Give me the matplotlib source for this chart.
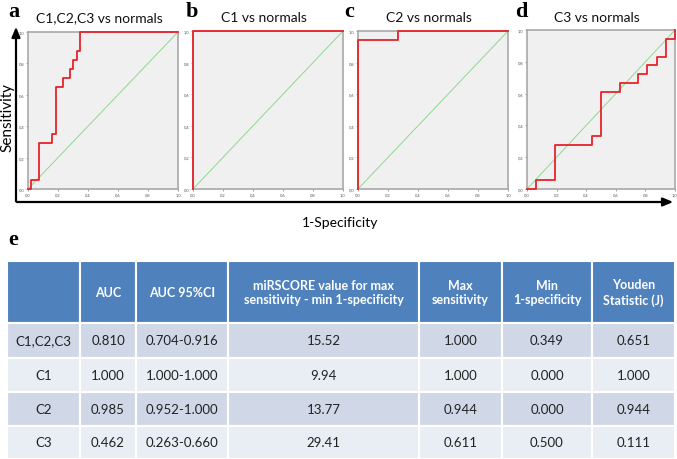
import matplotlib
matplotlib.use("Agg")
import matplotlib.pyplot as plt
from matplotlib.patches import Rectangle

# ROC corner points (1-specificity, sensitivity)
titles = ["C1,C2,C3 vs normals", "C1 vs normals", "C2 vs normals", "C3 vs normals"]
letters = ["a", "b", "c", "d"]
fpr_a = [0, 0.023, 0.070, 0.163, 0.186, 0.233, 0.279, 0.302, 0.326, 0.349, 1.0]
tpr_a = [0, 0.059, 0.294, 0.353, 0.647, 0.706, 0.765, 0.824, 0.882, 1.0, 1.0]
fpr_b = [0, 0, 1.0]
tpr_b = [0, 1.0, 1.0]
fpr_c = [0, 0, 0.267, 1.0]
tpr_c = [0, 0.944, 1.0, 1.0]
fpr_d = [0, 0.0625, 0.1875, 0.4375, 0.5, 0.625, 0.75, 0.8125, 0.875, 0.9375, 1.0]
tpr_d = [0, 0.056, 0.278, 0.333, 0.611, 0.667, 0.722, 0.778, 0.833, 0.944, 1.0]
ticks = [0, 0.2, 0.4, 0.6, 0.8, 1.0]

# table e
col_headers = ["", "AUC", "AUC 95%CI", "miRSCORE value for max\nsensitivity - min 1-specificity",
               "Max\nsensitivity", "Min\n1-specificity", "Youden\nStatistic (J)"]
row_names = ["C1,C2,C3", "C1", "C2", "C3"]
auc = ["0.810", "1.000", "0.985", "0.462"]
auc_ci = ["0.704-0.916", "1.000-1.000", "0.952-1.000", "0.263-0.660"]
mirscore = ["15.52", "9.94", "13.77", "29.41"]
max_sens = ["1.000", "1.000", "0.944", "0.611"]
min_spec = ["0.349", "0.000", "0.000", "0.500"]
youden = ["0.651", "1.000", "0.944", "0.111"]

W, H = 677, 460
fig = plt.figure(figsize=(W / 100, H / 100), dpi=100)
plt.rcParams['font.family'] = ['Lato', 'DejaVu Sans']

# overlay axes in pixel coordinates
bg = fig.add_axes([0, 0, 1, 1])
bg.set_xlim(0, W)
bg.set_ylim(H, 0)
bg.axis("off")

def px_axes(x0, y0, x1, y1):
    return fig.add_axes([x0 / W, 1 - y1 / H, (x1 - x0) / W, (y1 - y0) / H])

boxes = [(28, 33, 178, 190), (193, 32, 343, 190), (358, 32, 508, 190), (527, 31, 675, 190)]
curves = [(fpr_a, tpr_a), (fpr_b, tpr_b), (fpr_c, tpr_c), (fpr_d, tpr_d)]
letter_x = [8, 186, 344, 515]

for i, (box, (fx, fy)) in enumerate(zip(boxes, curves)):
    ax = px_axes(*box)
    ax.set_facecolor("#f0f0f0")
    ax.plot([0, 1], [0, 1], color="#8fd88f", lw=0.7)
    ax.step(fx, fy, where="post", color="#e8232b", lw=1.3, clip_on=False, zorder=5)
    ax.set_xlim(0, 1)
    ax.set_ylim(0, 1)
    ax.set_xticks(ticks)
    ax.set_yticks(ticks)
    lab = [("%.1f" % t).replace(".", ",") for t in ticks]
    ax.set_xticklabels(lab)
    ax.set_yticklabels(lab)
    ax.tick_params(labelsize=3, length=1.5, width=0.4, pad=1, colors="#555555")
    for s in ax.spines.values():
        s.set_color("#a8a8a8")
        s.set_linewidth(1.2)
    cx = (box[0] + box[2]) / 2
    bg.text(cx - 4, 18, titles[i], ha="center", va="center", fontsize=10, color="#111111")
    bg.text(letter_x[i], 12, letters[i], ha="left", va="center", fontsize=16,
            fontweight="bold", family="Liberation Serif")

# big axis arrows
bg.annotate("", xy=(16, 25), xytext=(16, 205),
            arrowprops=dict(arrowstyle="-|>,head_length=0.6,head_width=0.25", color="black", lw=1.6))
bg.annotate("", xy=(676, 203), xytext=(14, 203),
            arrowprops=dict(arrowstyle="-|>,head_length=0.6,head_width=0.25", color="black", lw=1.6))
bg.text(7, 118, "Sensitivity", rotation=90, ha="center", va="center", fontsize=11)
bg.text(340, 223, "1-Specificity", ha="center", va="center", fontsize=10)
bg.text(8, 240, "e", ha="left", va="center", fontsize=16, fontweight="bold", family="Liberation Serif")

# table
col_edges = [7, 80, 136, 228, 419, 502, 592, 675]
row_edges = [262, 324, 359, 393, 427, 460]
row_colors = ["#d0d8e8", "#e9edf4", "#d0d8e8", "#e9edf4"]
columns = [row_names, auc, auc_ci, mirscore, max_sens, min_spec, youden]

for j in range(len(col_edges) - 1):
    x0, x1 = col_edges[j], col_edges[j + 1]
    y0, y1 = row_edges[0], row_edges[1]
    bg.add_patch(Rectangle((x0, y0), x1 - x0, y1 - y0, facecolor="#4f81bd",
                           edgecolor="white", lw=1.5))
    bg.text((x0 + x1) / 2, (y0 + y1) / 2, col_headers[j], ha="center", va="center",
            fontsize=9, fontweight="bold", color="white", linespacing=1.25)
    for r in range(len(row_names)):
        ry0, ry1 = row_edges[r + 1], row_edges[r + 2]
        bg.add_patch(Rectangle((x0, ry0), x1 - x0, ry1 - ry0, facecolor=row_colors[r],
                               edgecolor="white", lw=1.5))
        bg.text((x0 + x1) / 2, (ry0 + ry1) / 2, columns[j][r], ha="center", va="center",
                fontsize=9.5, color="#222222")

fig.savefig("out.png", dpi=100)
